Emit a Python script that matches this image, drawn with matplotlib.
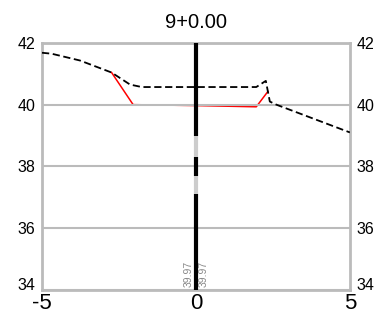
import matplotlib
matplotlib.use("Agg")
import matplotlib.pyplot as plt
import matplotlib.transforms as mtransforms

plt.rcParams['font.family'] = ['Liberation Sans', 'DejaVu Sans']
plt.rcParams['axes.unicode_minus'] = False

# ground line (dashed black)
ground_x = [-5.0, -4.69, -3.77, -2.74, -2.14, -1.76, 1.96, 2.27, 2.40, 2.61, 5.0]
ground_y = [41.68, 41.65, 41.43, 41.04, 40.65, 40.57, 40.57, 40.77, 40.10, 40.00, 39.10]

# design section (red)
design_x = [-2.74, -2.04, 0.0, 1.96, 2.34]
design_y = [41.04, 40.00, 39.97, 39.93, 40.43]

# centre line pieces: (y from, y to)
center_black = [(38.97, 42.0), (37.68, 38.32), (34.0, 37.10)]
center_grey = [(38.32, 38.97), (37.10, 37.68)]

labels = ["39.97", "39.97"]
label_x = [-0.24, 0.24]
title = "9+0.00"

fig = plt.figure(figsize=(3.75, 3.2), dpi=100)
ax = fig.add_axes([0.112, 0.094, 0.821, 0.772])
ax.set_xlim(-5, 5)
ax.set_ylim(34, 42)

ax.set_yticks([34, 36, 38, 40, 42])
ax.set_xticks([-5, 0, 5])
ax.grid(axis='y', color='#bbbbbb', linewidth=1.5, zorder=2)
ax.set_axisbelow(False)
for s in ax.spines.values():
    s.set_color('#bbbbbb')
    s.set_linewidth(2)
ax.tick_params(length=0)
ax.tick_params(axis='y', labelsize=11.5, pad=5, right=True, labelright=True)
ax.tick_params(axis='x', labelsize=16, pad=2.5)

ax.plot(design_x, design_y, color='red', linewidth=1.1, zorder=1)
ax.plot(ground_x, ground_y, color='black', linewidth=1.3, dashes=(4, 2), zorder=3)

for y0, y1 in center_grey:
    ax.plot([0, 0], [y0, y1], color='#cccccc', linewidth=3, zorder=4, solid_capstyle='butt')
for y0, y1 in center_black:
    ax.plot([0, 0], [y0, y1], color='black', linewidth=3, zorder=4, solid_capstyle='butt')

for lx, lab in zip(label_x, labels):
    ax.text(lx, 34.1, lab, rotation=90, fontsize=7.5, color='#888888',
            ha='center', va='bottom', zorder=5)

ax.set_title(title, fontsize=14.5, pad=11)

# lift the bottom "34" labels a little so they clear the x labels
fig.canvas.draw()
lift = mtransforms.ScaledTranslation(0, 4 / 72, fig.dpi_scale_trans)
tick0 = ax.yaxis.get_major_ticks()[0]
tick0.label1.set_transform(tick0.label1.get_transform() + lift)
tick0.label2.set_transform(tick0.label2.get_transform() + lift)

fig.savefig("out.png", dpi=100)
